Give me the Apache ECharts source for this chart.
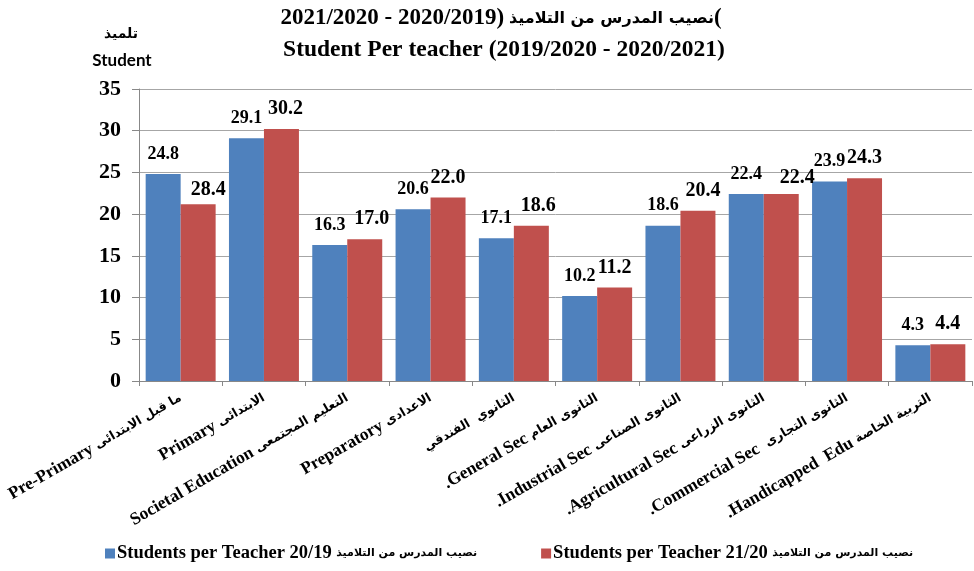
<!DOCTYPE html>
<html><head><meta charset="utf-8">
<script src="https://cdn.jsdelivr.net/npm/echarts@6/dist/echarts.min.js"></script>
<style>html,body{margin:0;padding:0;background:#fff}#c{width:974px;height:571px}</style>
</head><body><div id="c"></div>
<script>
const categoriesEn = ['Pre-Primary ', 'Primary ', 'Societal Education ', 'Preparatory ', '', '.General Sec ', '.Industrial Sec ', '.Agricultural Sec ', '.Commercial Sec  ', '.Handicapped  Edu '];
const categoriesAr = ['ما قبل الابتدائى', 'الابتدائى', 'التعليم المجتمعى', 'الاعدادى', 'الثانوي  الفندقي', 'الثانوى العام', 'الثانوى الصناعى', 'الثانوى الزراعى', 'الثانوى التجارى', 'التربية الخاصة'];
const series1En = 'Students per Teacher 20/19 ';
const series2En = 'Students per Teacher 21/20 ';
const seriesAr = 'نصيب المدرس من التلاميذ';
const values1920 = [24.8, 29.1, 16.3, 20.6, 17.1, 10.2, 18.6, 22.4, 23.9, 4.3];
const values2021 = [21.2, 30.2, 17.0, 22.0, 18.6, 11.2, 20.4, 22.4, 24.3, 4.4];
const labels1920 = ['24.8', '29.1', '16.3', '20.6', '17.1', '10.2', '18.6', '22.4', '23.9', '4.3'];
const labels2021 = ['28.4', '30.2', '17.0', '22.0', '18.6', '11.2', '20.4', '22.4', '24.3', '4.4'];
const yTicks = [0, 5, 10, 15, 20, 25, 30, 35];
const titleNums = '2021/2020 - 2020/2019';
const titleAr = 'نصيب المدرس من التلاميذ';
const titleLine2 = 'Student Per teacher (2019/2020 - 2020/2021)';
const unitAr = 'تلميذ';
const unitEn = 'Student';

// label nudges (style only)
const nudge2 = [[10, 6], [4, 0], [7, 0], [0, 0], [7, 0], [0, 0], [5, 0], [16, 4], [0, 0], [0, 0]];

const SERIF = '"Liberation Serif", "Times New Roman", serif';
const ARAB = '"DejaVu Sans", sans-serif';
const BLUE = '#4F81BD', RED = '#C0504D';
const categories = categoriesEn.map((e, i) => e + categoriesAr[i]);
const series1Name = series1En + seriesAr;
const series2Name = series2En + seriesAr;

function mk(vals, labs, nudge) {
  return vals.map((v, i) => {
    const o = { value: v, label: { formatter: labs[i] } };
    if (nudge) o.label.offset = nudge[i];
    return o;
  });
}

const chart = echarts.init(document.getElementById('c'), null, { renderer: 'canvas' });
chart.setOption({
  animation: false,
  backgroundColor: '#fff',
  title: [
    { text: '{n|' + titleNums + '}{p|)} {ar|' + titleAr + '}{p|(}', left: 496, top: 2, textAlign: 'center',
      textStyle: { rich: {
        n: { fontFamily: SERIF, fontWeight: 'bold', fontSize: 23, color: '#000' },
        p: { fontFamily: SERIF, fontWeight: 'bold', fontSize: 23, color: '#000' },
        ar: { fontFamily: ARAB, fontWeight: 'bold', fontSize: 16, color: '#000' } } } },
    { text: titleLine2, left: 499, top: 33, textAlign: 'center',
      textStyle: { fontFamily: SERIF, fontWeight: 'bold', fontSize: 23.5, color: '#000' } },
    { text: unitAr, left: 116, top: 22, textAlign: 'center',
      textStyle: { fontFamily: ARAB, fontWeight: 'bold', fontSize: 14, color: '#000' } },
    { text: unitEn, left: 117, top: 47, textAlign: 'center',
      textStyle: { fontFamily: 'Lato, "Open Sans", sans-serif', fontWeight: 'bold', fontSize: 17, color: '#000' } }
  ],
  legend: {
    top: 539, left: 100, width: 870,
    itemWidth: 10, itemHeight: 10, itemGap: 64,
    icon: 'rect',
    formatter: function (name) {
      const en = name === series1Name ? series1En : series2En;
      return '{en|' + en + '}{ar|' + seriesAr + '}';
    },
    textStyle: { padding: [0, 0, 0, -3], rich: {
      en: { fontFamily: SERIF, fontWeight: 'bold', fontSize: 18.5, color: '#000' },
      ar: { fontFamily: ARAB, fontWeight: 'bold', fontSize: 11, color: '#000' } } },
    data: [series1Name, series2Name]
  },
  grid: { left: 139, right: 2, top: 89, bottom: 190, containLabel: false, outerBoundsMode: 'none' },
  xAxis: {
    type: 'category', data: categories,
    axisLine: { lineStyle: { color: '#888', width: 1 } },
    axisTick: { show: true, length: 5, lineStyle: { color: '#888' } },
    axisLabel: {
      rotate: 30, interval: 0, margin: 16,
      formatter: function (v, i) {
        const en = categoriesEn[i];
        return (en ? '{en|' + en + '}' : '') + '{ar|' + categoriesAr[i] + '}';
      },
      rich: {
        en: { fontFamily: SERIF, fontWeight: 'bold', fontSize: 17.5, color: '#000' },
        ar: { fontFamily: ARAB, fontWeight: 'bold', fontSize: 12.5, color: '#000' }
      }
    }
  },
  yAxis: {
    type: 'value', min: yTicks[0], max: yTicks[yTicks.length - 1], interval: 5,
    axisLine: { show: true, lineStyle: { color: '#888', width: 1 } },
    axisTick: { show: true, length: 7, lineStyle: { color: '#888' } },
    splitLine: { lineStyle: { color: '#A6A6A6', width: 1 } },
    axisLabel: { margin: 18, fontFamily: SERIF, fontWeight: 'bold', fontSize: 22, color: '#000' }
  },
  series: [
    { name: series1Name, type: 'bar', data: mk(values1920, labels1920), barGap: '0%', barCategoryGap: '16%',
      itemStyle: { color: BLUE },
      label: { show: true, position: 'top', distance: 11, fontFamily: SERIF, fontWeight: 'bold', fontSize: 18, color: '#000' } },
    { name: series2Name, type: 'bar', data: mk(values2021, labels2021, nudge2), barGap: '0%', barCategoryGap: '16%',
      itemStyle: { color: RED },
      label: { show: true, position: 'top', distance: 10, fontFamily: SERIF, fontWeight: 'bold', fontSize: 20, color: '#000' } }
  ]
});
</script></body></html>
